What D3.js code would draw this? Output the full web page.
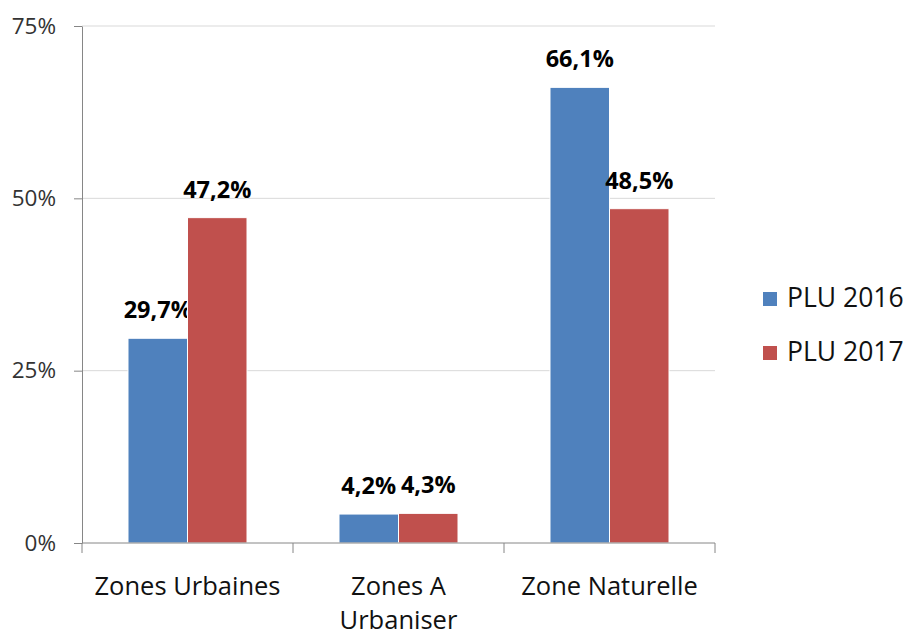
<!DOCTYPE html>
<html>
<head>
<meta charset="utf-8">
<script src="https://cdn.jsdelivr.net/npm/d3@7"></script>
<style>
  body { margin: 0; background: #fff; }
  text { font-family: "Open Sans", sans-serif; }
</style>
</head>
<body>
<div id="chart"></div>
<script>
var categories = ["Zones Urbaines", "Zones A Urbaniser", "Zone Naturelle"];
var seriesNames = ["PLU 2016", "PLU 2017"];
var plu2016 = [29.7, 4.2, 66.1];
var plu2017 = [47.2, 4.3, 48.5];
var yTicks = [0, 25, 50, 75];
var colors = ["#4f81bd", "#c0504d"];

function init(){

    var w = 905;
    var h = 632;
    var left = 82, right = 715, top = 26, bottom = 543;

    var series = [plu2016, plu2017];

    var svg = d3.select("#chart")
                .append("svg")
                .attr("width", w)
                .attr("height", h);

    var x0 = d3.scaleBand()
                .domain(categories)
                .range([left, right])
                .padding(0);

    var x1 = d3.scaleBand()
                .domain(seriesNames)
                .range([0, x0.bandwidth()])
                .paddingInner(0)
                .paddingOuter(0.773);

    var y = d3.scaleLinear()
                .domain([0, 75])
                .range([bottom, top]);

    // gridlines
    svg.append("g")
        .selectAll("line")
        .data(yTicks.filter(function(d){ return d > 0; }))
        .enter()
        .append("line")
        .attr("x1", left)
        .attr("x2", right)
        .attr("y1", function(d){ return y(d); })
        .attr("y2", function(d){ return y(d); })
        .attr("stroke", "#d9d9d9")
        .attr("stroke-width", 1);

    // bars
    var groups = svg.append("g")
        .selectAll("g")
        .data(series)
        .enter()
        .append("g")
        .attr("fill", function(d, i){ return colors[i]; });

    groups.selectAll("rect")
        .data(function(d, i){
            return d.map(function(v, j){ return {cat: categories[j], s: seriesNames[i], v: v}; });
        })
        .enter()
        .append("rect")
        .attr("x", function(d){ return x0(d.cat) + x1(d.s); })
        .attr("y", function(d){ return y(d.v); })
        .attr("width", x1.bandwidth())
        .attr("height", function(d){ return bottom - y(d.v); })
        .attr("stroke", "#fff")
        .attr("stroke-width", 1);

    // value labels
    groups.selectAll("text")
        .data(function(d, i){
            return d.map(function(v, j){ return {cat: categories[j], s: seriesNames[i], v: v}; });
        })
        .enter()
        .append("text")
        .attr("x", function(d){ return x0(d.cat) + x1(d.s) + x1.bandwidth() / 2; })
        .attr("y", function(d){ return y(d.v) - 20; })
        .attr("text-anchor", "middle")
        .attr("fill", "#000")
        .style("font-size", "23.5px")
        .style("font-weight", "bold")
        .text(function(d){ return d.v.toFixed(1).replace(".", ",") + "%"; });

    // y axis
    var yAxis = d3.axisLeft(y)
                .tickValues(yTicks)
                .tickSize(8)
                .tickSizeOuter(0)
                .tickPadding(18)
                .tickFormat(function(d){ return d + "%"; });

    var gy = svg.append("g")
        .attr("transform", "translate(" + left + ",0)")
        .call(yAxis);
    gy.select(".domain").attr("stroke", "#868686");
    gy.selectAll(".tick line").attr("stroke", "#868686");
    gy.selectAll(".tick text")
        .attr("fill", "#333")
        .style("font-size", "22.5px")
        .style("font-family", "'Open Sans', sans-serif");

    // x axis
    svg.append("line")
        .attr("x1", left).attr("x2", right)
        .attr("y1", bottom).attr("y2", bottom)
        .attr("stroke", "#868686");

    var bounds = categories.map(function(c){ return x0(c); }).concat([right]);
    svg.append("g")
        .selectAll("line")
        .data(bounds)
        .enter()
        .append("line")
        .attr("x1", function(d){ return d; })
        .attr("x2", function(d){ return d; })
        .attr("y1", bottom)
        .attr("y2", bottom + 10)
        .attr("stroke", "#868686");

    var xLabels = svg.append("g")
        .selectAll("text")
        .data(categories)
        .enter()
        .append("text")
        .attr("x", function(d){ return x0(d) + x0.bandwidth() / 2; })
        .attr("y", 595)
        .attr("text-anchor", "middle")
        .attr("fill", "#111")
        .style("font-size", "25.5px");

    xLabels.each(function(d){
        var t = d3.select(this);
        var words = d.split(" ");
        var line = [];
        var tspan = t.append("tspan").attr("x", t.attr("x")).attr("dy", 0);
        words.forEach(function(word){
            line.push(word);
            tspan.text(line.join(" "));
            if (tspan.node().getComputedTextLength() > x0.bandwidth() - 6 && line.length > 1) {
                line.pop();
                tspan.text(line.join(" "));
                line = [word];
                tspan = t.append("tspan")
                    .attr("x", t.attr("x"))
                    .attr("dy", 34)
                    .text(word);
            }
        });
    });

    // legend
    var legend = svg.append("g")
        .selectAll("g")
        .data(seriesNames)
        .enter()
        .append("g")
        .attr("transform", function(d, i){ return "translate(763," + (292 + i * 54) + ")"; });

    legend.append("rect")
        .attr("width", 14)
        .attr("height", 14)
        .attr("fill", function(d, i){ return colors[i]; });

    legend.append("text")
        .attr("x", 24)
        .attr("y", 15)
        .attr("fill", "#111")
        .style("font-size", "26.5px")
        .text(function(d){ return d; });
}

window.onload = init;
</script>
</body>
</html>
